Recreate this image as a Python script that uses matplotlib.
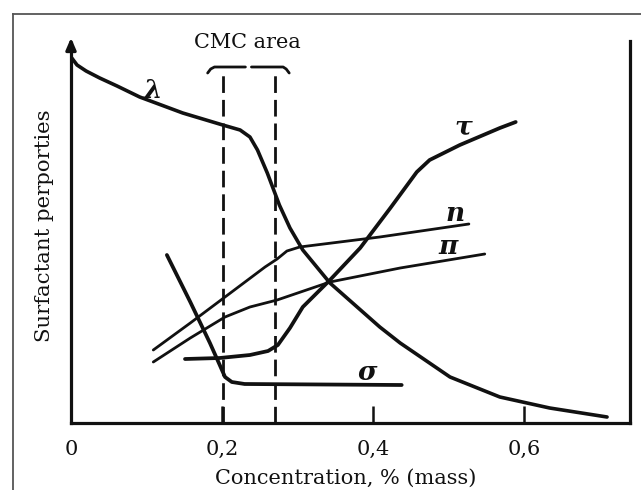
import matplotlib
matplotlib.use("Agg")
import matplotlib.pyplot as plt
from matplotlib.lines import Line2D

plt.rcParams['font.family'] = ['DejaVu Serif']

# ---- data (x: concentration %, y: arbitrary property units) ----
lam_x = [0.001, 0.008, 0.020, 0.038, 0.061, 0.091, 0.148, 0.201, 0.224, 0.237, 0.247,
         0.260, 0.276, 0.290, 0.307, 0.343, 0.376, 0.409, 0.436, 0.502, 0.568, 0.634, 0.710]
lam_y = [3.65, 3.58, 3.52, 3.45, 3.37, 3.26, 3.10, 2.98, 2.93, 2.86, 2.73,
         2.50, 2.18, 1.95, 1.73, 1.40, 1.18, 0.96, 0.80, 0.46, 0.26, 0.15, 0.06]

tau_x = [0.151, 0.197, 0.237, 0.261, 0.274, 0.290, 0.307, 0.343, 0.383, 0.423,
         0.458, 0.475, 0.515, 0.568, 0.589]
tau_y = [0.64, 0.65, 0.68, 0.72, 0.78, 0.95, 1.16, 1.43, 1.75, 2.15,
         2.51, 2.63, 2.78, 2.95, 3.01]

n_x = [0.109, 0.158, 0.204, 0.257, 0.273, 0.286, 0.303, 0.409, 0.527]
n_y = [0.73, 1.00, 1.26, 1.56, 1.64, 1.72, 1.76, 1.86, 1.99]

pi_x = [0.109, 0.158, 0.204, 0.237, 0.273, 0.343, 0.436, 0.548]
pi_y = [0.61, 0.85, 1.06, 1.16, 1.23, 1.41, 1.55, 1.69]

sig_x = [0.127, 0.158, 0.184, 0.197, 0.204, 0.213, 0.230, 0.438]
sig_y = [1.68, 1.21, 0.80, 0.58, 0.46, 0.41, 0.39, 0.38]

cmc_bounds = [0.201, 0.270]
cmc_top = 3.51

curve_labels = ['λ', 'τ', 'n', 'π', 'σ']
label_x = [0.109, 0.519, 0.509, 0.499, 0.393]
label_y = [3.33, 2.96, 2.10, 1.77, 0.51]

xticks = [0, 0.2, 0.4, 0.6]
xtick_labels = ['0', '0,2', '0,4', '0,6']

# brace over CMC area
brace_left_x = [0.181, 0.185, 0.190, 0.231]
brace_left_y = [3.50, 3.54, 3.56, 3.56]
brace_right_x = [0.239, 0.281, 0.285, 0.289]
brace_right_y = [3.56, 3.56, 3.54, 3.50]

# ---- figure ----
W, H = 641, 490
fig = plt.figure(figsize=(W / 100, H / 100), dpi=100)

# outer frame (top and left visible)
fig.add_artist(Line2D([13 / W, 13 / W], [0, 1 - 14 / H], color='#555555', lw=1.3))
fig.add_artist(Line2D([13 / W, 1], [1 - 14 / H, 1 - 14 / H], color='#555555', lw=1.3))

ax_l, ax_r, ax_b, ax_t = 71, 630, 423, 35
ax = fig.add_axes([ax_l / W, 1 - ax_b / H, (ax_r - ax_l) / W, (ax_b - ax_t) / H])
ax.set_xlim(0, (ax_r - ax_l) / 755)
ax.set_ylim(0, (ax_b - ax_t) / 100)

for s in ['left', 'bottom', 'right']:
    ax.spines[s].set_linewidth(2.3)
    ax.spines[s].set_color('#111111')
ax.spines['top'].set_visible(False)
ax.spines['right'].set_bounds(0, 3.82)
ax.spines['left'].set_bounds(0, 3.80)
ax.set_yticks([])
ax.set_xticks(xticks)
ax.set_xticklabels(xtick_labels, fontsize=15, color='#111111')
ax.tick_params(axis='x', direction='in', length=12, width=1.8, pad=12, color='#111111')

# y-axis arrow
ax.annotate('', xy=(0, 1.0), xytext=(0, 0.96), xycoords='axes fraction',
            arrowprops=dict(arrowstyle='-|>,head_length=0.7,head_width=0.3',
                            color='#111111', lw=2.3), annotation_clip=False)

# curves
ax.plot(lam_x, lam_y, color='#111111', lw=2.6, solid_capstyle='round', solid_joinstyle='round')
ax.plot(tau_x, tau_y, color='#111111', lw=2.7, solid_capstyle='round', solid_joinstyle='round')
ax.plot(n_x, n_y, color='#111111', lw=2.0, solid_capstyle='round', solid_joinstyle='round')
ax.plot(pi_x, pi_y, color='#111111', lw=2.0, solid_capstyle='round', solid_joinstyle='round')
ax.plot(sig_x, sig_y, color='#111111', lw=2.7, solid_capstyle='round', solid_joinstyle='round')

# CMC dashed lines
for xb in cmc_bounds:
    ax.plot([xb, xb], [0, cmc_top], color='#111111', lw=2.0, dashes=(6, 2.5))
ax.plot(brace_left_x, brace_left_y, color='#111111', lw=2.0, solid_capstyle='round')
ax.plot(brace_right_x, brace_right_y, color='#111111', lw=2.0, solid_capstyle='round')
ax.text(0.233, 3.80, 'CMC area', fontsize=15, ha='center', va='center', color='#111111')

for t, lx, ly in zip(curve_labels, label_x, label_y):
    ax.text(lx, ly, t, fontsize=19, style='italic', fontweight='bold',
            ha='center', va='center', color='#111111')

fig.text(346 / W, 1 - 478 / H, 'Concentration, % (mass)', fontsize=15,
         ha='center', va='center', color='#111111')
fig.text(45 / W, 1 - 226 / H, 'Surfactant perporties', fontsize=15.3, rotation=90,
         ha='center', va='center', color='#111111')

fig.savefig('out.png', dpi=100)
